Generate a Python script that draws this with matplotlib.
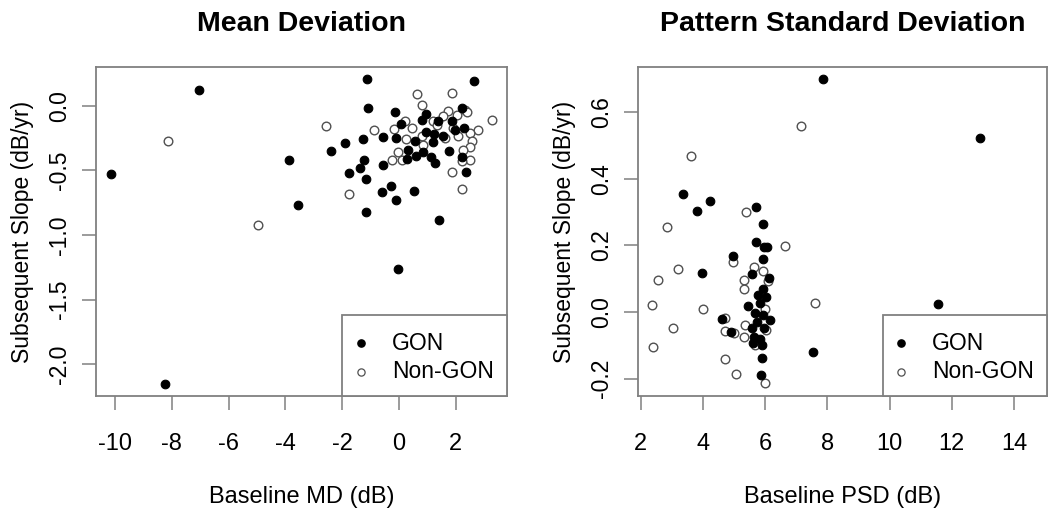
import matplotlib
matplotlib.use("Agg")
import matplotlib.pyplot as plt
from matplotlib.patches import Rectangle

FONT = "Liberation Sans"

# ---- data: Mean Deviation panel ----
md_gon_x = [-1.14, 2.64, -1.09, -0.15, 0.94, 2.21, 0.80, 1.38, 1.86, 0.07, 2.30, 1.97,
            0.94, 1.22, 1.56, -0.55, -0.11, -1.26, 0.57, 1.19, -1.90, -2.39, 0.33, 1.77,
            0.83, 0.60, 0.29, -3.87, 1.13, 2.23, 1.28, -1.23, -1.37, -0.55, -1.77, 2.35,
            -1.17, -0.28, -0.61, 0.53, -0.11, -3.56, -1.15, 1.41, -0.04,
            -10.14, -7.04, -8.25]
md_gon_y = [0.21, 0.19, -0.02, -0.05, -0.06, -0.02, -0.11, -0.12, -0.12, -0.14, -0.17, -0.19,
            -0.20, -0.22, -0.23, -0.24, -0.25, -0.26, -0.27, -0.28, -0.29, -0.35, -0.34, -0.35,
            -0.36, -0.39, -0.41, -0.42, -0.40, -0.40, -0.44, -0.42, -0.48, -0.46, -0.52, -0.51,
            -0.57, -0.62, -0.67, -0.66, -0.73, -0.77, -0.82, -0.88, -1.26,
            -0.53, 0.12, -2.15]
md_non_x = [0.62, 1.86, 0.82, -2.57, -0.87, 3.26, 1.74, 2.32, 2.40, 1.56, 2.03, 0.21,
            1.19, 0.45, -0.17, 1.91, 2.79, 2.48, 2.07, 0.25, 0.80, 2.58, 0.86, 2.50,
            2.26, -0.02, -0.26, 0.12, 2.50, 2.23, 1.86, 2.23, -1.75, 1.35, 1.60,
            -8.13, -4.98]
md_non_y = [0.09, 0.10, 0.005, -0.16, -0.19, -0.11, -0.04, -0.03, -0.05, -0.08, -0.07, -0.12,
            -0.12, -0.17, -0.18, -0.17, -0.19, -0.21, -0.23, -0.26, -0.23, -0.27, -0.30, -0.32,
            -0.34, -0.36, -0.42, -0.42, -0.42, -0.43, -0.51, -0.64, -0.68, -0.15, -0.25,
            -0.27, -0.92]

# ---- data: Pattern Standard Deviation panel ----
psd_gon_x = [3.37, 4.23, 3.82, 5.71, 5.92, 5.71, 5.96, 6.07, 4.96, 5.94, 3.97, 5.57,
             6.13, 5.94, 5.78, 6.03, 5.46, 5.84, 5.68, 5.94, 4.60, 6.16, 5.73, 5.57,
             5.96, 4.89, 5.65, 5.84, 5.62, 5.89, 5.89, 5.86,
             7.85, 12.91, 11.57, 7.55]
psd_gon_y = [0.355, 0.334, 0.303, 0.316, 0.265, 0.210, 0.196, 0.196, 0.169, 0.158, 0.116, 0.114,
             0.103, 0.068, 0.051, 0.044, 0.018, 0.026, -0.004, -0.009, -0.021, -0.024, -0.029, -0.049,
             -0.049, -0.059, -0.074, -0.082, -0.092, -0.099, -0.137, -0.189,
             0.700, 0.522, 0.023, -0.120]
psd_non_x = [3.61, 2.84, 5.39, 3.19, 2.55, 2.36, 3.99, 3.05, 2.39, 4.96, 5.65, 5.32,
             5.32, 5.92, 6.10, 4.71, 4.72, 5.01, 5.33, 5.36, 4.71, 5.06, 6.00, 5.68,
             6.00, 6.03,
             7.14, 6.64, 7.60]
psd_non_y = [0.470, 0.256, 0.300, 0.128, 0.096, 0.021, 0.010, -0.048, -0.106, 0.149, 0.136, 0.096,
             0.068, 0.123, 0.093, -0.017, -0.056, -0.062, -0.074, -0.039, -0.141, -0.186, -0.214, -0.099,
             0.008, -0.054,
             0.559, 0.198, 0.028]

md_xticks = [-10, -8, -6, -4, -2, 0, 2]
md_yticks = [0.0, -0.5, -1.0, -1.5, -2.0]
psd_xticks = [2, 4, 6, 8, 10, 12, 14]
psd_yticks = [-0.2, 0.0, 0.2, 0.4, 0.6]
legend_labels = ["GON", "Non-GON"]

W, H = 1050, 508
fig = plt.figure(figsize=(W / 100, H / 100), dpi=100)
GRAY = "#808080"
MS = 6.2  # points


def make_axes(x0, x1, y0, y1):
    return fig.add_axes([x0 / W, 1 - y1 / H, (x1 - x0) / W, (y1 - y0) / H])


def style(ax, xticks, yticks, yfmt, title, xlabel):
    for s in ax.spines.values():
        s.set_color(GRAY)
        s.set_linewidth(1.3)
    ax.set_xticks(xticks)
    ax.set_xticklabels([str(t) for t in xticks], fontfamily=FONT, fontsize=17)
    ax.set_yticks(yticks)
    ax.set_yticklabels([yfmt.format(t) for t in yticks], fontfamily=FONT, fontsize=16.5,
                       rotation=90, va="center")
    ax.tick_params(axis="both", direction="out", length=10, width=1.1, color=GRAY)
    ax.tick_params(axis="x", pad=17)
    ax.tick_params(axis="y", pad=8)
    ax.set_title(title, fontfamily=FONT, fontweight="bold", fontsize=20.5, pad=26)
    ax.set_xlabel(xlabel, fontfamily=FONT, fontsize=17, labelpad=22)
    ax.set_ylabel("Subsequent Slope (dB/yr)", fontfamily=FONT, fontsize=16.5, labelpad=10)


def draw(ax, gx, gy, nx, ny):
    ax.plot(nx, ny, "o", ms=MS, mfc="white", mec="#505050", mew=1.0, ls="none", zorder=3)
    ax.plot(gx, gy, "o", ms=MS, mfc="black", mec="black", mew=0.8, ls="none", zorder=4)


def legend(ax):
    ax.add_patch(Rectangle((0.598, 0.0), 0.402, 0.247, transform=ax.transAxes,
                           facecolor="white", edgecolor=GRAY, lw=1.3, zorder=5,
                           clip_on=False))
    ax.plot([0.644], [0.161], "o", ms=5.2, mfc="black", mec="black",
            transform=ax.transAxes, zorder=6, clip_on=False)
    ax.plot([0.644], [0.073], "o", ms=5.2, mfc="white", mec="#505050", mew=0.9,
            transform=ax.transAxes, zorder=6, clip_on=False)
    ax.text(0.7195, 0.161, legend_labels[0], transform=ax.transAxes, fontfamily=FONT,
            fontsize=16.5, va="center", ha="left", zorder=7)
    ax.text(0.7195, 0.073, legend_labels[1], transform=ax.transAxes, fontfamily=FONT,
            fontsize=16.5, va="center", ha="left", zorder=7)


ax1 = make_axes(96, 507, 67, 396)
draw(ax1, md_gon_x, md_gon_y, md_non_x, md_non_y)
ax1.set_xlim(-10.67, 3.80)
ax1.set_ylim(-2.245, 0.30)
style(ax1, md_xticks, md_yticks, "{:.1f}", "Mean Deviation", "Baseline MD (dB)")
legend(ax1)

ax2 = make_axes(638, 1047, 67, 396)
draw(ax2, psd_gon_x, psd_gon_y, psd_non_x, psd_non_y)
ax2.set_xlim(1.91, 15.06)
ax2.set_ylim(-0.252, 0.736)
style(ax2, psd_xticks, psd_yticks, "{:.1f}", "Pattern Standard Deviation", "Baseline PSD (dB)")
legend(ax2)

fig.savefig("out.png", dpi=100, facecolor="white")
